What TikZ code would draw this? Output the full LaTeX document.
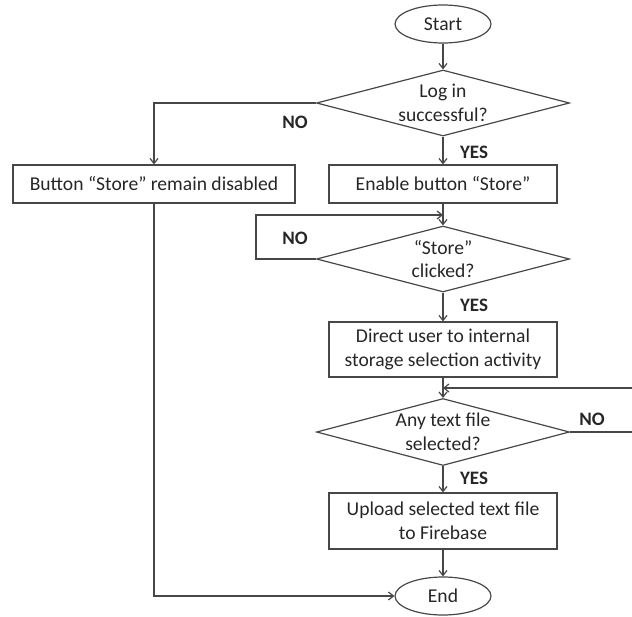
\documentclass[tikz,border=0pt]{standalone}
\usepackage{fontspec}
\setmainfont{Carlito}
\usetikzlibrary{shapes.geometric,arrows.meta}
\begin{document}
\begin{tikzpicture}[x=1pt,y=-1pt,
  every node/.style={font=\fontsize{19.6}{23.5}\selectfont, text=black!85},
  line/.style={draw=black!72, line width=1.2pt},
  arr/.style={line, -{Straight Barb[length=5pt,width=8pt]}},
  term/.style={ellipse, draw=black!72, line width=1.2pt, inner sep=0pt, minimum width=96pt, minimum height=38pt},
  proc/.style={rectangle, draw=black!72, line width=1.2pt, inner sep=0pt, minimum width=228pt, align=center},
  dec/.style={diamond, draw=black!72, line width=1.2pt, inner sep=0pt, minimum width=253pt, minimum height=66pt, aspect=3.8},
  dectext/.style={align=center},
  lbl/.style={font=\bfseries\fontsize{19}{22}\selectfont}
]
\useasboundingbox (0,0) rectangle (632,616);

\node[term] (start) at (443,24) {Start};
\node[dec] (d1) at (443,103) {};
\node[dectext] (t1) at (d1) {Log in\\successful?};
\node[proc, minimum height=38pt] (b1) at (443,184) {Enable button “Store”};
\node[proc, minimum width=282pt, minimum height=38pt] (bl) at (154,184) {Button “Store” remain disabled};
\node[dec] (d2) at (443,259) {};
\node[dectext] (t2) at (d2) {“Store”\\clicked?};
\node[proc, minimum height=55pt] (b3) at (443,349.5) {Direct user to internal\\storage selection activity};
\node[dec, minimum height=67pt] (d3) at (443,432) {};
\node[dectext] (t3) at (d3) {Any text file\\selected?};
\node[proc, minimum height=56pt] (b4) at (443,521) {Upload selected text file\\to Firebase};
\node[term] (end) at (443,596) {End};

\coordinate (j1) at (443,215);
\coordinate (j2) at (443,388);

\draw[arr] (start) -- (d1);
\draw[arr] (d1.west) -| (bl.north);
\draw[arr] (d1) -- (b1);
\draw[arr] (b1) -- (d2);
\draw[arr] (d2.west) -- ++(-60,0) |- (j1);
\draw[arr] (d2) -- (b3);
\draw[arr] (b3) -- (d3);
\draw[arr] (d3.east) -- ++(63,0) |- (j2);
\draw[arr] (d3) -- (b4);
\draw[arr] (b4) -- (end);
\draw[arr] (bl.south) |- (end.west);

\node[lbl] (no1) at (295,122) {NO};
\node[lbl] (yes1) at (474,152) {YES};
\node[lbl] (no2) at (295,238) {NO};
\node[lbl] (yes2) at (474,305) {YES};
\node[lbl] (no3) at (592,419) {NO};
\node[lbl] (yes3) at (474,478) {YES};
\end{tikzpicture}
\end{document}
